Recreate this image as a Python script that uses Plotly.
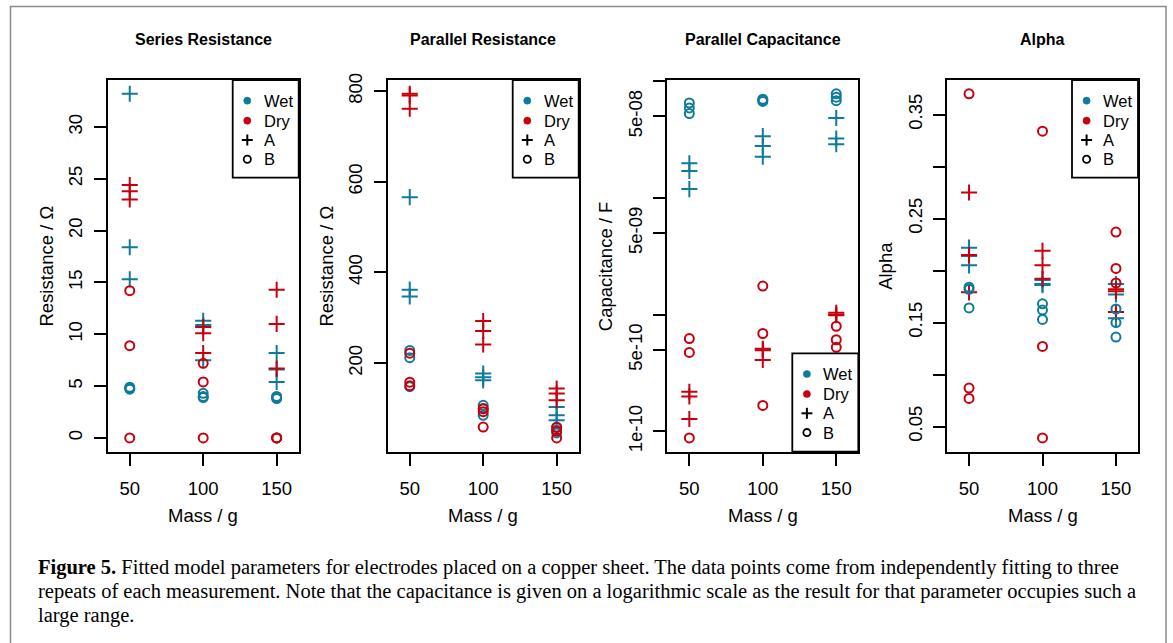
import plotly.graph_objects as go
import math

W, H = 1173, 643

# ---------------- data ----------------
mass = [50, 50, 50, 100, 100, 100, 150, 150, 150]
mass_ticks = [50, 100, 150]

series_wet_A = [33.2, 18.4, 15.3, 11.3, 10.9, 7.5, 8.2, 6.6, 5.4]
series_dry_A = [24.4, 23.8, 23.0, 10.7, 10.1, 8.2, 14.3, 11.0, 6.7]
series_wet_B = [4.9, 4.8, 4.7, 4.3, 4.0, 3.9, 4.0, 3.9, 3.8]
series_dry_B = [14.2, 8.9, 0.0, 7.2, 5.4, 0.0, 0.0, 0.0, 0.0]

parallel_wet_A = [566, 362, 347, 177, 169, 162, 103, 85, 74]
parallel_dry_A = [794, 790, 761, 293, 271, 241, 144, 133, 118]
parallel_wet_B = [228, 212, 148, 107, 99, 85, 59, 52, 46]
parallel_dry_B = [222, 158, 150, 100, 93, 59, 58, 50, 35]

cap_wet_A = [1.98e-8, 1.70e-8, 1.19e-8, 3.38e-8, 2.78e-8, 2.25e-8, 4.84e-8, 3.23e-8, 2.88e-8]
cap_dry_A = [2.19e-10, 1.99e-10, 1.28e-10, 5.1e-10, 4.97e-10, 4.09e-10, 1.04e-9, 1.0e-9, 9.9e-10]
cap_wet_B = [6.5e-8, 5.9e-8, 5.28e-8, 7.0e-8, 6.9e-8, 6.7e-8, 7.8e-8, 7.3e-8, 6.8e-8]
cap_dry_B = [6.25e-10, 4.75e-10, 8.8e-11, 1.76e-9, 6.9e-10, 1.67e-10, 7.96e-10, 6.1e-10, 5.25e-10]

alpha_wet_A = [0.222, 0.214, 0.205, 0.191, 0.187, 0.186, 0.187, 0.177, 0.154]
alpha_dry_A = [0.275, 0.215, 0.179, 0.219, 0.205, 0.192, 0.182, 0.180, 0.160]
alpha_wet_B = [0.184, 0.182, 0.164, 0.168, 0.162, 0.153, 0.163, 0.150, 0.136]
alpha_dry_B = [0.370, 0.087, 0.077, 0.334, 0.127, 0.039, 0.237, 0.202, 0.188]

titles = ["Series Resistance", "Parallel Resistance", "Parallel Capacitance", "Alpha"]
ytitles = ["Resistance / \u03a9", "Resistance / \u03a9", "Capacitance / F", "Alpha"]
xtitle = "Mass / g"

series_ticks = [0, 5, 10, 15, 20, 25, 30]
parallel_ticks = [200, 400, 600, 800]
cap_ticks = [1e-10, 5e-10, 1e-9, 5e-9, 1e-8, 5e-8, 1e-7]
cap_ticktext = ["1e-10", "5e-10", "", "5e-09", "", "5e-08", ""]
alpha_ticks = [0.05, 0.10, 0.15, 0.20, 0.25, 0.30, 0.35]
alpha_ticktext = ["0.05", "", "0.15", "", "0.25", "", "0.35"]

legend_labels = ["Wet", "Dry", "A", "B"]

caption_lines = [
    "<b>Figure 5.</b> Fitted model parameters for electrodes placed on a copper sheet. The data points come from independently fitting to three",
    "repeats of each measurement. Note that the capacitance is given on a logarithmic scale as the result for that parameter occupies such a",
    "large range.",
]

# ---------------- style ----------------
TEAL = "#0F7B9A"
RED = "#C8000D"
SANS = "Liberation Sans, Arial, Helvetica, sans-serif"
SERIF = "Liberation Serif, Times New Roman, serif"

panels = [
    (series_wet_A, series_dry_A, series_wet_B, series_dry_B, False, series_ticks, [str(v) for v in series_ticks]),
    (parallel_wet_A, parallel_dry_A, parallel_wet_B, parallel_dry_B, False, parallel_ticks, [str(v) for v in parallel_ticks]),
    (cap_wet_A, cap_dry_A, cap_wet_B, cap_dry_B, True, cap_ticks, cap_ticktext),
    (alpha_wet_A, alpha_dry_A, alpha_wet_B, alpha_dry_B, False, alpha_ticks, alpha_ticktext),
]

lefts = [107.7, 387.7, 667.3, 947.0]
pw = 191.0
ptop, pbot = 80.0, 451.7


def px(x):
    return x / W


def py(y):
    return 1 - y / H


fig = go.Figure()
shapes = []
annotations = []

for i, (wa, da, wb, db, logy, tv, tt) in enumerate(panels):
    n = "" if i == 0 else str(i + 1)
    xa, ya = "x" + n, "y" + n
    for vals, col, sym, size in [
        (wa, TEAL, "cross-thin-open", 11.5),
        (da, RED, "cross-thin-open", 11.5),
        (wb, TEAL, "circle-open", 9),
        (db, RED, "circle-open", 9),
    ]:
        fig.add_trace(go.Scatter(
            x=mass, y=vals, mode="markers", xaxis=xa, yaxis=ya,
            marker=dict(symbol=sym, size=size, color=col, line=dict(color=col, width=2)),
            showlegend=False, hoverinfo="skip"))

    allv = wa + da + wb + db
    if logy:
        lo, hi = math.log10(min(allv)), math.log10(max(allv))
    else:
        lo, hi = min(allv), max(allv)
    ext = 0.04 * (hi - lo)
    yr = [lo - ext, hi + ext]

    L = lefts[i]
    fig.layout["xaxis" + n] = dict(
        domain=[px(L), px(L + pw)], range=[35, 165], anchor=ya,
        tickvals=mass_ticks, ticktext=[str(v) for v in mass_ticks],
        showline=True, mirror=True, linecolor="black", linewidth=1.8,
        ticks="outside", ticklen=12, tickwidth=1.8, tickcolor="black",
        showgrid=False, zeroline=False, ticklabelstandoff=7, automargin=False,
        tickfont=dict(family=SANS, size=18.5, color="black"))
    fig.layout["yaxis" + n] = dict(
        domain=[py(pbot), py(ptop)], range=yr, anchor=xa,
        type="log" if logy else "linear",
        tickvals=tv, ticktext=tt, tickangle=-90,
        showline=True, mirror=True, linecolor="black", linewidth=1.8,
        ticks="outside", ticklen=12, tickwidth=1.8, tickcolor="black",
        showgrid=False, zeroline=False, ticklabelstandoff=4, automargin=False,
        tickfont=dict(family=SANS, size=18.5, color="black"))

    cx = L + pw / 2
    annotations.append(dict(x=px(cx), y=py(40), xref="paper", yref="paper",
                            text="<b>%s</b>" % titles[i], showarrow=False,
                            font=dict(family=SANS, size=16, color="black"),
                            xanchor="center", yanchor="middle"))
    annotations.append(dict(x=px(cx), y=py(515), xref="paper", yref="paper",
                            text=xtitle, showarrow=False,
                            font=dict(family=SANS, size=18.5, color="black"),
                            xanchor="center", yanchor="middle"))
    annotations.append(dict(x=px(L - 61), y=py((ptop + pbot) / 2), xref="paper", yref="paper",
                            text=ytitles[i], showarrow=False, textangle=-90,
                            font=dict(family=SANS, size=18.5, color="black"),
                            xanchor="center", yanchor="middle"))

    # legend box
    bl = L + 125.0
    br = L + pw
    if i == 2:
        bt, bb = 353.3, pbot
    else:
        bt, bb = ptop, 177.7
    shapes.append(dict(type="rect", xref="paper", yref="paper",
                       x0=px(bl), x1=px(br), y0=py(bb), y1=py(bt),
                       line=dict(color="black", width=1.8), fillcolor="white", layer="above"))
    sx = bl + 14.6
    tx = bl + 29.0
    rows = [bt + 20.7, bt + 40.7, bt + 60.0, bt + 79.3]
    for r, col in zip(rows[:2], [TEAL, RED]):
        shapes.append(dict(type="circle", xref="paper", yref="paper",
                           x0=px(sx - 3.6), x1=px(sx + 3.6), y0=py(r + 3.6), y1=py(r - 3.6),
                           line=dict(color=col, width=0.5), fillcolor=col, layer="above"))
    r = rows[2]
    shapes.append(dict(type="line", xref="paper", yref="paper",
                       x0=px(sx - 5.5), x1=px(sx + 5.5), y0=py(r), y1=py(r),
                       line=dict(color="black", width=2), layer="above"))
    shapes.append(dict(type="line", xref="paper", yref="paper",
                       x0=px(sx), x1=px(sx), y0=py(r - 5.5), y1=py(r + 5.5),
                       line=dict(color="black", width=2), layer="above"))
    r = rows[3]
    shapes.append(dict(type="circle", xref="paper", yref="paper",
                       x0=px(sx - 3.6), x1=px(sx + 3.6), y0=py(r + 3.6), y1=py(r - 3.6),
                       line=dict(color="black", width=1.8), fillcolor="rgba(0,0,0,0)", layer="above"))
    for r, lab in zip(rows, legend_labels):
        annotations.append(dict(x=px(tx), y=py(r), xref="paper", yref="paper",
                                text=lab, showarrow=False,
                                font=dict(family=SANS, size=16.5, color="black"),
                                xanchor="left", yanchor="middle"))

# caption
for k, line in enumerate(caption_lines):
    annotations.append(dict(x=px(36), y=py(567 + 24 * k), xref="paper", yref="paper",
                            text=line, showarrow=False,
                            font=dict(family=SERIF, size=20.5, color="black"),
                            xanchor="left", yanchor="middle"))

# outer frame
shapes.append(dict(type="rect", xref="paper", yref="paper",
                   x0=px(10.5), x1=px(1166), y0=py(660), y1=py(6.5),
                   line=dict(color="#8a8a8a", width=1.5), fillcolor="rgba(0,0,0,0)"))

fig.update_layout(
    width=W, height=H, margin=dict(l=0, r=0, t=0, b=0),
    paper_bgcolor="white", plot_bgcolor="white",
    shapes=shapes, annotations=annotations, showlegend=False,
)

fig.write_html("out.html")
